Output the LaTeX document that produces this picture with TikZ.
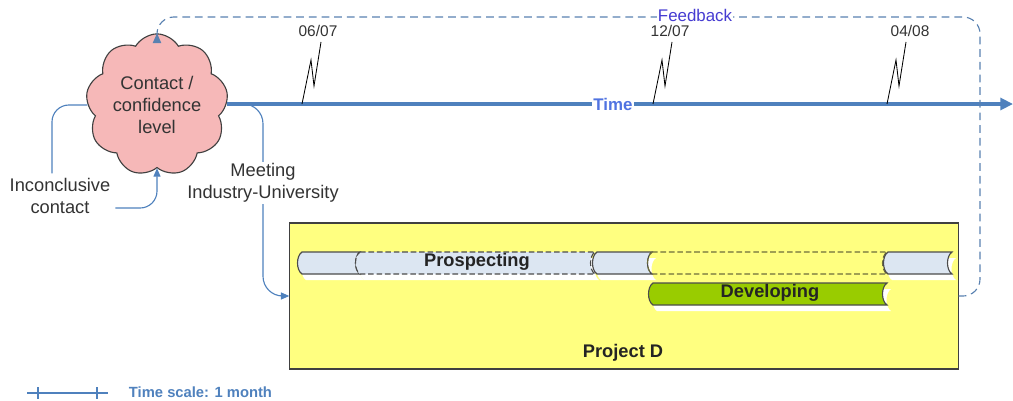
\documentclass[tikz,border=0pt]{standalone}
\usepackage{fontspec}
\setmainfont{Liberation Sans}
\usetikzlibrary{shapes.symbols,arrows.meta}

\definecolor{axisblue}{RGB}{79,129,189}
\definecolor{fbblue}{RGB}{70,60,210}
\definecolor{timeblue}{RGB}{80,115,225}
\definecolor{cloudpink}{RGB}{246,184,184}
\definecolor{projyellow}{RGB}{255,255,128}
\definecolor{barblue}{RGB}{220,230,242}
\definecolor{devgreen}{RGB}{153,204,0}
\definecolor{txtgray}{RGB}{51,51,51}
\definecolor{olive}{RGB}{110,110,60}

% one bar piece with "(" shaped ends
\newcommand{\barseg}[4][]{%
  \path[#1] (#2,#4-11) -- (#3,#4-11) .. controls (#3-6,#4-7) and (#3-6,#4+7) .. (#3,#4+11)
    -- (#2,#4+11) .. controls (#2-6,#4+7) and (#2-6,#4-7) .. (#2,#4-11) -- cycle;}

\tikzset{
  txt/.style={font=\fontsize{13}{15.6}\selectfont, text=txtgray, align=center},
  bold/.style={font=\fontsize{13}{15.6}\selectfont\bfseries, text=txtgray!70!black},
  axis/.style={draw=axisblue, line width=2.2pt, -{Triangle[length=9pt,width=8.5pt]}},
  flow/.style={draw=axisblue, line width=0.8pt, -{Triangle[length=6pt,width=5pt]}},
  fb/.style={draw=axisblue!80!gray, line width=0.8pt, dash pattern=on 5.5pt off 3.5pt,
    -{Triangle[length=7pt,width=6pt]}},
  tick/.style={draw=black, line width=0.6pt},
  seg/.style={fill=barblue, draw=black!70, line width=0.8pt},
  dseg/.style={seg, dash pattern=on 4pt off 2pt},
  shadow/.style={fill=white, shift={(4,6)}},
}

\begin{document}
\begin{tikzpicture}[x=0.025cm, y=-0.025cm]
    \useasboundingbox (0,0) rectangle (1013,401);

    % project frame
    \node[draw=black!75, line width=0.8pt, fill=projyellow, minimum width=16.7cm,
          minimum height=3.65cm, inner sep=0] (box) at (624,296) {};
    \node[bold] (proj) at (623,353) {Project D};

    % bars
    \barseg[shadow]{302}{360}{263}
    \barseg[shadow]{360}{595}{263}
    \barseg[shadow]{597}{652}{263}
    \barseg[shadow]{888}{952}{263}
    \barseg[shadow]{653}{887}{294}
    \barseg[seg]{302}{360}{263}
    \barseg[dseg]{360}{595}{263}
    \barseg[seg]{597}{652}{263}
    \barseg[dseg, fill=none, draw=olive]{652}{887}{263}
    \barseg[seg]{888}{952}{263}
    \barseg[seg, fill=devgreen]{653}{887}{294}
    \node[bold] (prosp) at (477,262) {Prospecting};
    \node[bold] (dev) at (770,293) {Developing};

    % meeting
    \coordinate (mstart) at (238,104);
    \coordinate (mbend) at (263,296);
    \draw[flow, rounded corners=14] (mstart) -| (mbend) -- (box.west);
    \node[txt, fill=white, inner sep=1pt] (meet) at (263,183) {Meeting\\Industry-University};

    % cloud
    \node[cloud, cloud puffs=9, cloud puff arc=120, aspect=1, draw=black!75,
          fill=cloudpink, line width=0.8pt, minimum width=2.9cm, minimum height=2.9cm,
          inner sep=0, txt] (cloud) at (157,105) {Contact /\\confidence\\level};

    % time line
    \coordinate (tend) at (1013,104);
    \draw[axis] (cloud.east |- tend) -- (tend);
    \node[font=\fontsize{12}{14}\selectfont\bfseries, text=timeblue, fill=white,
          inner sep=1pt] (time) at (613,104) {Time};

    \coordinate (t1) at (302,104);
    \coordinate (t2) at (653,104);
    \coordinate (t3) at (887,104);
    \draw[tick] (t1) -- ++(9,-44) -- ++(3,26) -- ++(7,-44);
    \draw[tick] (t2) -- ++(9,-44) -- ++(3,26) -- ++(7,-44);
    \draw[tick] (t3) -- ++(9,-44) -- ++(3,26) -- ++(7,-44);
    \node[txt, font=\fontsize{11}{13}\selectfont] (d1) at (318,31) {06/07};
    \node[txt, font=\fontsize{11}{13}\selectfont] (d2) at (670,31) {12/07};
    \node[txt, font=\fontsize{11}{13}\selectfont] (d3) at (910,31) {04/08};

    % inconclusive contact loop
    \node[txt] (inc) at (60,196) {Inconclusive\\contact};
    \draw[draw=axisblue, line width=0.8pt, rounded corners=12]
        ([xshift=-0.2cm]inc.north) |- (cloud.west);
    \draw[flow, rounded corners=12] ([yshift=-0.3cm]inc.east) -| (cloud.south);

    % feedback
    \coordinate (fbcorner) at (980,17);
    \draw[fb, rounded corners=12] (box.east) -| (fbcorner) -| (cloud.north);
    \node[font=\fontsize{12}{14}\selectfont, text=fbblue, fill=white,
          inner sep=1pt] (feed) at (695,15) {Feedback};

    % legend
    \coordinate (ls) at (27,393);
    \coordinate (le) at (108,393);
    \draw[axisblue, line width=1pt] (ls) -- (le);
    \draw[axisblue, line width=1pt] (38,387) -- (38,399);
    \draw[axisblue, line width=1pt] (97,387) -- (97,399);
    \node[anchor=west, font=\fontsize{10.5}{12}\selectfont\bfseries, text=axisblue]
        (scale) at (124,392) {Time scale: 1 month};
\end{tikzpicture}
\end{document}
